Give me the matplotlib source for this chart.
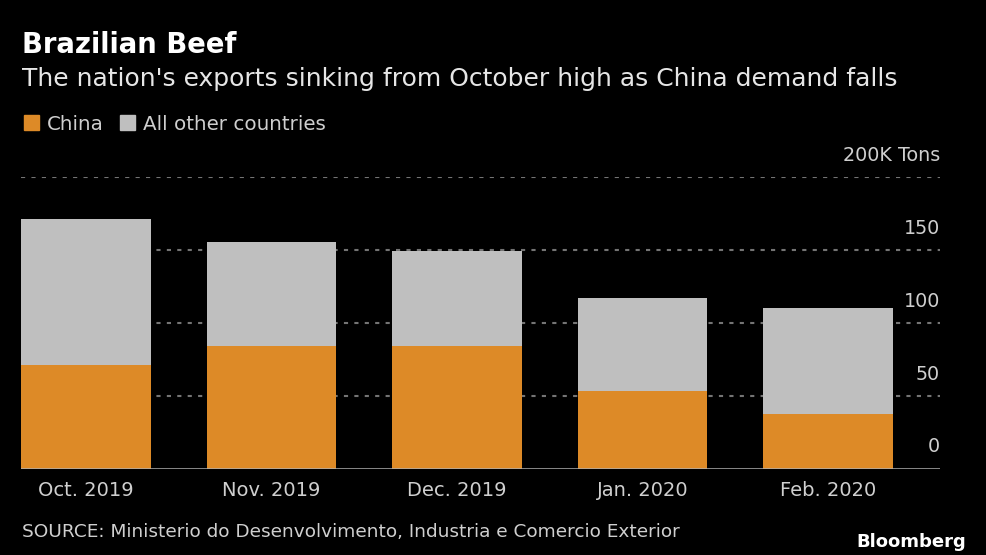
import matplotlib
matplotlib.use("Agg")
import numpy as np
import matplotlib.pyplot as plt

# values (thousand tons)
months = ["Oct. 2019", "Nov. 2019", "Dec. 2019", "Jan. 2020", "Feb. 2020"]
china = [71.4, 84.0, 84.0, 53.6, 37.9]
others_total = [171.2, 155.5, 149.7, 117.1, 110.7]
y_ticks = [0, 50, 100, 150, 200]
y_tick_labels = ["0", "50", "100", "150", "200K Tons"]

ORANGE = "#DD8A27"
GRAY = "#BFBFBF"
BG = "#000000"
TXT = "#CFCFCF"

plt.rcParams["font.family"] = ["DejaVu Sans"]

W, H = 987, 555
fig = plt.figure(figsize=(W / 100, H / 100), dpi=100, facecolor=BG)

ax_left, ax_right = 21, 940
ax_bottom, ax_top = 469, 177.3
ax = fig.add_axes([ax_left / W, 1 - ax_bottom / H,
                   (ax_right - ax_left) / W, (ax_bottom - ax_top) / H])
ax.set_facecolor(BG)

x = np.arange(len(months))
china = np.array(china)
rest = np.array(others_total) - china
width = 0.7

# gridlines behind bars
for v in y_ticks[1:]:
    ax.axhline(v, color="#747474", lw=1.5, ls=(0, (2, 3)), zorder=1)

ax.bar(x, china, width, color=ORANGE, zorder=2)
ax.bar(x, rest, width, bottom=china, color=GRAY, zorder=2)
ax.axhline(0, color="#B0B0B0", lw=1.8, zorder=3)

ax.set_xlim(-0.35, -0.35 + (ax_right - ax_left) / 185.5)
ax.set_ylim(0, 200)
for s in ax.spines.values():
    s.set_visible(False)
ax.set_yticks([])
ax.set_xticks(x)
ax.set_xticklabels(months, color=TXT, fontsize=14)
ax.tick_params(axis="x", length=0, pad=9)

# y labels sit above the gridlines on the right
for v, lab in zip(y_ticks, y_tick_labels):
    ax.annotate(lab, xy=(1, v), xycoords=("axes fraction", "data"),
                xytext=(0, 9), textcoords="offset points",
                ha="right", va="bottom", color=TXT, fontsize=13.8)

# titles
fig.text(22 / W, 1 - 53 / H, "Brazilian Beef", color="white",
         fontsize=19.8, fontweight="bold", va="baseline", ha="left")
fig.text(22 / W, 1 - 86 / H,
         "The nation's exports sinking from October high as China demand falls",
         color="#E6E6E6", fontsize=18, va="baseline", ha="left")

# legend
fig.patches.append(plt.Rectangle((24 / W, 1 - 130 / H), 15 / W, 15 / H,
                                 transform=fig.transFigure, color=ORANGE))
fig.text(47 / W, 1 - 130 / H, "China", color=TXT, fontsize=14.3,
         va="baseline", ha="left")
fig.patches.append(plt.Rectangle((120 / W, 1 - 130 / H), 15 / W, 15 / H,
                                 transform=fig.transFigure, color=GRAY))
fig.text(143 / W, 1 - 130 / H, "All other countries", color=TXT, fontsize=14.3,
         va="baseline", ha="left")

# footer
fig.text(22 / W, 1 - 537 / H,
         "SOURCE: Ministerio do Desenvolvimento, Industria e Comercio Exterior",
         color=TXT, fontsize=13.3, va="baseline", ha="left")
fig.text(966 / W, 1 - 547 / H, "Bloomberg", color="white", fontsize=13,
         fontweight="bold", va="baseline", ha="right")

fig.savefig("out.png", dpi=100, facecolor=BG)
